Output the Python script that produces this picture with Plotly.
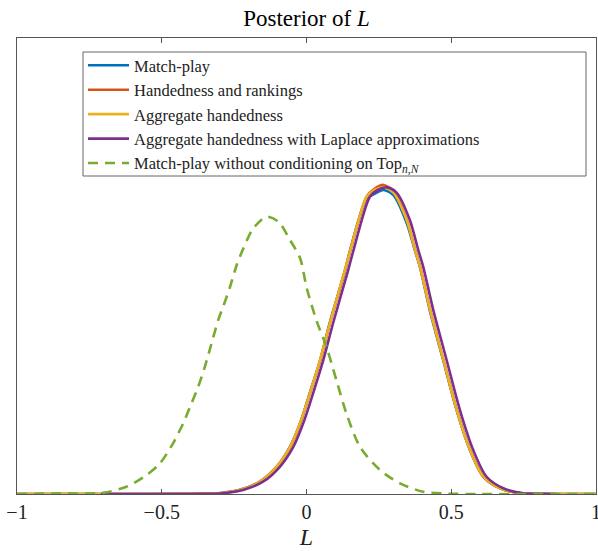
import plotly.graph_objects as go

# ---- data ----
x_main = [-1.0, -0.6, -0.42, -0.35, -0.299, -0.230, -0.161, -0.103, -0.057, -0.022, 0.012,
          0.047, 0.081, 0.133, 0.150, 0.208, 0.235, 0.266, 0.300, 0.346, 0.375, 0.392,
          0.427, 0.473, 0.519, 0.565, 0.611, 0.669, 0.738, 0.80, 0.9, 1.0]
y_blue = [0.0, 0.0, 0.001, 0.003, 0.007, 0.033, 0.098, 0.214, 0.372, 0.556, 0.801,
          1.052, 1.357, 1.76, 1.92, 2.33, 2.37, 2.40, 2.36, 2.14, 1.92, 1.79,
          1.44, 1.05, 0.66, 0.345, 0.137, 0.045, 0.007, 0.001, 0.0, 0.0]
y_red = [0.0, 0.0, 0.001, 0.003, 0.006, 0.032, 0.097, 0.216, 0.371, 0.561, 0.798,
         1.058, 1.351, 1.769, 1.915, 2.35, 2.41, 2.44, 2.39, 2.165, 1.928, 1.796,
         1.452, 1.058, 0.662, 0.346, 0.135, 0.044, 0.006, 0.001, 0.0, 0.0]
y_yellow = [0.0, 0.0, 0.001, 0.003, 0.006, 0.032, 0.097, 0.215, 0.370, 0.560, 0.797,
            1.057, 1.350, 1.768, 1.913, 2.347, 2.40, 2.421, 2.38, 2.163, 1.926, 1.795,
            1.452, 1.058, 0.663, 0.347, 0.136, 0.045, 0.006, 0.001, 0.0, 0.0]

x_purple = [-0.71, -0.42, -0.35, -0.288, -0.219, -0.150, -0.092, -0.046, -0.011, 0.023,
            0.058, 0.092, 0.144, 0.161, 0.219, 0.246, 0.277, 0.311, 0.357, 0.386, 0.403,
            0.438, 0.484, 0.530, 0.576, 0.622, 0.680, 0.749, 0.80, 0.862]
y_purple = [0.0, 0.0, 0.002, 0.006, 0.032, 0.097, 0.215, 0.370, 0.560, 0.797,
            1.057, 1.350, 1.768, 1.913, 2.347, 2.40, 2.421, 2.38, 2.163, 1.926, 1.795,
            1.452, 1.058, 0.663, 0.347, 0.136, 0.045, 0.006, 0.002, 0.0]

x_green = [-1.0, -0.852, -0.703, -0.622, -0.552, -0.506, -0.461, -0.426, -0.397, -0.374,
           -0.351, -0.328, -0.305, -0.288, -0.264, -0.241, -0.218, -0.184, -0.138, -0.097,
           -0.057, -0.022, 0.001, 0.035, 0.070, 0.104, 0.139, 0.185, 0.254, 0.323,
           0.403, 0.485, 0.6, 1.0]
y_green = [0.0, 0.005, 0.010, 0.057, 0.150, 0.242, 0.400, 0.558, 0.716, 0.847,
           1.005, 1.189, 1.373, 1.478, 1.636, 1.808, 1.939, 2.097, 2.189, 2.150,
           2.005, 1.861, 1.624, 1.366, 1.155, 0.892, 0.629, 0.371, 0.189, 0.084,
           0.018, 0.003, 0.0, 0.0]

names = ["Match-play", "Handedness and rankings", "Aggregate handedness",
         "Aggregate handedness with Laplace approximations",
         "Match-play without conditioning on Top<sub><i>n</i>,<i>N</i></sub>"]
colors = ["#0072BD", "#D95319", "#EDB120", "#7E2F8E", "#77AC30"]
x_ticks = [-1, -0.5, 0, 0.5, 1]
x_tick_labels = ["\u22121", "\u22120.5", "0", "0.5", "1"]

FONT = "Liberation Serif"
LW = 2.6
W, H = 598, 551
ML, MR, MT, MB = 17, 2, 38, 57
PW, PH = W - ML - MR, H - MT - MB


def px_x(p):
    return (p - ML) / PW


def px_y(p):
    return (H - MB - p) / PH


fig = go.Figure()
series = [(x_main, y_blue), (x_main, y_red), (x_main, y_yellow), (x_purple, y_purple)]
for (xs, ys), n, c in zip(series, names[:4], colors[:4]):
    fig.add_trace(go.Scatter(x=xs, y=ys, mode="lines", name=n,
                             line=dict(color=c, width=LW, shape="spline", smoothing=0.8)))
fig.add_trace(go.Scatter(x=x_green, y=y_green, mode="lines", name=names[4],
                         line=dict(color=colors[4], width=LW, dash="10px,7px",
                                   shape="spline", smoothing=0.8)))

# legend frame (MATLAB-style box)
fig.add_shape(type="rect", xref="paper", yref="paper",
              x0=px_x(83), x1=px_x(586), y0=px_y(176), y1=px_y(52),
              line=dict(color="#666", width=1), fillcolor="white", layer="below")

fig.update_layout(
    width=W, height=H,
    margin=dict(l=ML, r=MR, t=MT, b=MB, autoexpand=False),
    paper_bgcolor="white", plot_bgcolor="white",
    font=dict(family=FONT, color="#262626"),
    title=dict(text="Posterior of <i>L</i>", x=0.5, xanchor="center", xref="paper",
               y=1 - 18 / H, yanchor="middle", automargin=False,
               font=dict(size=23, family=FONT, color="#000")),
    showlegend=True,
    legend=dict(x=px_x(83), y=px_y(48), xanchor="left", yanchor="top",
                bgcolor="rgba(0,0,0,0)", borderwidth=0, itemwidth=41,
                font=dict(size=16.5, family=FONT, color="#222"),
                tracegroupgap=0),
    xaxis=dict(range=[-1, 1], tickvals=x_ticks, ticktext=x_tick_labels,
               ticks="inside", ticklen=5, tickcolor="#555", mirror="ticks",
               showline=True, linecolor="#555", linewidth=1, showgrid=False,
               zeroline=False, automargin=False, ticklabeloverflow="allow",
               tickfont=dict(size=20, family=FONT, color="#222"),
               title=dict(text="<i>L</i>", font=dict(size=24, family=FONT, color="#222"),
                          standoff=6)),
    yaxis=dict(range=[0, 3.6], showticklabels=False, ticks="", mirror=True,
               showline=True, linecolor="#555", linewidth=1, showgrid=False,
               zeroline=False, automargin=False),
)

fig.write_html("out.html", config={"displayModeBar": False},
               post_script="document.body.style.margin='0';document.body.style.overflow='hidden';")
